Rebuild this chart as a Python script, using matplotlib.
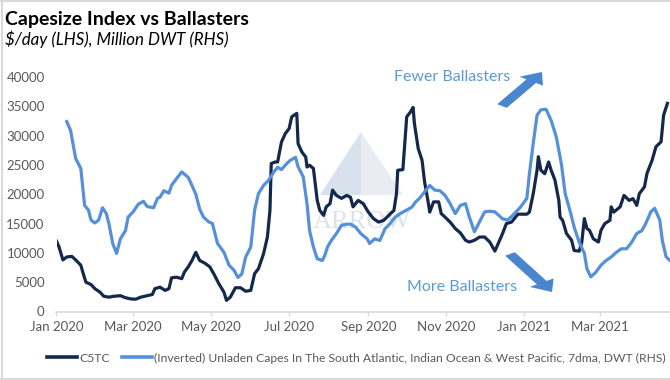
import numpy as np
import matplotlib
matplotlib.use("Agg")
import matplotlib.pyplot as plt
import matplotlib.dates as mdates
from matplotlib.patches import Polygon, FancyArrow
from matplotlib.lines import Line2D

plt.rcParams['font.family'] = ['Lato', 'DejaVu Sans']

start = np.datetime64('2020-01-01')

# C5TC, $/day (LHS) - days counted from 1 Jan 2020
c5tc_day = [0, 2, 5, 8, 12, 15, 19, 21, 23, 27,
            30, 34, 37, 41, 45, 50, 54, 58, 62, 66,
            71, 75, 77, 81, 85, 88, 90, 94, 98, 100,
            103, 106, 109, 112, 116, 120, 123, 127, 131, 133,
            136, 140, 144, 148, 152, 155, 158, 162, 165, 167,
            168, 171, 173, 176, 179, 182, 184, 188, 189, 192,
            195, 196, 198, 201, 204, 206, 209, 211, 214, 216,
            219, 223, 227, 230, 232, 236, 240, 244, 248, 252,
            256, 260, 264, 266, 267, 271, 274, 277, 279, 280,
            283, 286, 288, 291, 292, 295, 299, 301, 304, 308,
            312, 316, 320, 323, 327, 331, 335, 339, 343, 346,
            349, 352, 356, 361, 368, 370, 373, 376, 377, 379,
            382, 385, 387, 390, 393, 394, 396, 399, 403, 405,
            409, 411, 413, 415, 417, 420, 424, 426, 429, 433,
            434, 436, 441, 444, 448, 451, 454, 456, 460, 462,
            466, 469, 473, 475, 478]
c5tc = [12000, 11000, 8800, 9300, 9400, 8800, 7900, 6400, 5000, 4600,
        3900, 3300, 2600, 2450, 2600, 2700, 2350, 2150, 2100, 2450,
        2700, 2900, 3900, 4150, 3600, 3900, 5750, 5850, 5600, 6700,
        7600, 8700, 10100, 8700, 8250, 7600, 6450, 4750, 3300, 1900,
        2450, 4050, 4050, 3450, 3600, 6450, 7300, 9850, 12700, 17250,
        25250, 25500, 25500, 28900, 30350, 31200, 33200, 33800, 28650, 27200,
        26350, 24650, 24950, 24400, 18950, 17250, 16400, 17850, 18400, 20700,
        19800, 19300, 19800, 19500, 17850, 18950, 18400, 16950, 15850, 15250,
        15550, 16400, 17250, 20100, 24100, 24200, 33200, 34050, 34800, 32100,
        27800, 25800, 22100, 18400, 16950, 18700, 18700, 16700, 16100, 15250,
        14150, 13400, 12150, 11850, 12150, 12700, 12700, 11850, 10300, 11800,
        13300, 15000, 15250, 16600, 16600, 16950, 20100, 24100, 26400, 24100,
        23500, 25500, 24100, 22400, 18950, 16100, 15550, 13300, 12150, 10400,
        10300, 11850, 15850, 14150, 13850, 12400, 11850, 13850, 15000, 15550,
        17850, 16950, 17850, 19800, 18950, 19250, 18100, 20100, 21250, 23550,
        25800, 28100, 28950, 33500, 35500]

# unladen capes, million DWT (RHS, inverted)
capes_day = [8, 11, 15, 19, 22, 25, 27, 30, 33, 36,
             39, 41, 44, 47, 50, 54, 56, 60, 64, 68,
             71, 76, 79, 81, 84, 88, 90, 94, 98, 103,
             106, 109, 112, 115, 119, 122, 126, 131, 135, 139,
             142, 145, 148, 152, 155, 158, 162, 166, 170, 173,
             176, 180, 183, 187, 189, 193, 196, 198, 201, 204,
             208, 210, 212, 215, 219, 223, 227, 230, 234, 238,
             243, 245, 249, 253, 257, 261, 265, 269, 274, 278,
             281, 284, 288, 292, 296, 300, 304, 308, 312, 316,
             320, 323, 327, 331, 335, 339, 343, 349, 353, 357,
             363, 368, 370, 373, 376, 379, 383, 387, 391, 395,
             398, 402, 405, 409, 413, 415, 418, 422, 426, 430,
             434, 438, 442, 446, 450, 454, 458, 461, 465, 468,
             472, 474, 477, 480]
capes = [42.6, 44.1, 48.9, 50.6, 56.9, 57.7, 59.4, 59.9, 59.4, 57.3,
         58.3, 60.0, 63.4, 65.1, 62.6, 61.2, 58.9, 58.0, 56.7, 56.2,
         57.1, 57.3, 55.7, 55.5, 54.4, 54.8, 53.5, 52.3, 51.2, 52.1,
         53.5, 55.0, 57.5, 58.9, 59.7, 60.0, 63.4, 64.9, 67.1, 68.0,
         69.2, 68.6, 65.7, 64.0, 57.7, 54.9, 53.5, 52.6, 51.2, 50.4,
         50.8, 49.8, 49.2, 48.7, 50.3, 52.0, 56.6, 61.2, 64.0, 66.0,
         66.3, 65.4, 64.0, 62.9, 61.7, 60.3, 60.1, 60.1, 60.6, 61.7,
         62.6, 63.4, 62.6, 62.9, 60.9, 60.0, 58.9, 58.3, 57.7, 57.2,
         56.3, 55.7, 54.6, 53.5, 54.3, 54.4, 55.2, 56.6, 58.3, 56.9,
         56.6, 58.9, 61.4, 59.7, 58.0, 57.9, 58.0, 59.2, 59.4, 58.6,
         57.2, 55.7, 51.5, 46.3, 41.5, 40.6, 40.5, 42.4, 45.2, 49.8,
         54.9, 58.0, 60.6, 63.2, 65.1, 67.7, 69.1, 68.3, 67.1, 66.3,
         65.7, 64.9, 64.3, 64.3, 63.2, 61.7, 61.2, 60.0, 58.0, 57.4,
         59.4, 62.9, 65.7, 66.3]

dark = "#14284b"
blue = "#5590d8"
grey = "#595959"

x1 = start + np.array(c5tc_day).astype('timedelta64[D]')
x2 = start + np.array(capes_day).astype('timedelta64[D]')

fig = plt.figure(figsize=(6.7, 3.8), dpi=100)
W, H = 670, 380
ax = fig.add_axes([56.5 / W, 1 - 311.5 / H, (W - 56.5) / W, 234.5 / H])
ax2 = ax.twinx()

# watermark
wm_kw = dict(transform=fig.transFigure, zorder=0)
fig.patches.append(Polygon([(361 / W, 1 - 132 / H), (320 / W, 1 - 195 / H), (361 / W, 1 - 195 / H)],
                           closed=True, fc="#d8e1ec", ec="none", **wm_kw))
fig.patches.append(Polygon([(361 / W, 1 - 132 / H), (403 / W, 1 - 195 / H), (361 / W, 1 - 195 / H)],
                           closed=True, fc="#e9edf3", ec="none", **wm_kw))
fig.lines.append(Line2D([322 / W, 361 / W, 400 / W], [1 - 192 / H, 1 - 148 / H, 1 - 192 / H],
                        color="white", lw=1.0, **wm_kw))
fig.text(362 / W, 1 - 222 / H, "ARROW", family="Liberation Serif", fontsize=19,
         color="#dde2ea", ha="center", va="center", zorder=0)

ax.set_zorder(2)
ax2.set_zorder(3)
ax.patch.set_visible(False)
ax2.patch.set_visible(False)

ax.plot(x1, c5tc, color=dark, lw=2.3, solid_joinstyle="round")
ax2.plot(x2, capes, color=blue, lw=2.3, solid_joinstyle="round")

ax.set_xlim(start, start + np.timedelta64(480, 'D'))
ax.set_ylim(0, 40000)
ax.set_yticks(range(0, 40001, 5000))
ax2.set_ylim(75, 35)

ax.xaxis.set_major_locator(mdates.MonthLocator(bymonth=[1, 3, 5, 7, 9, 11]))
ax.xaxis.set_major_formatter(mdates.DateFormatter('%b %Y'))

for s in ["top", "right", "left"]:
    ax.spines[s].set_visible(False)
    ax2.spines[s].set_visible(False)
ax2.spines["bottom"].set_visible(False)
ax.spines["bottom"].set_color("#d9d9d9")
ax.spines["bottom"].set_linewidth(1.2)
ax2.set_yticks([])
ax.tick_params(axis="y", length=0, pad=8.5, labelsize=9.5, labelcolor=grey)
ax.tick_params(axis="x", length=3, width=1, color="#d9d9d9", pad=4, labelsize=9.5, labelcolor=grey)

# titles
fig.text(5 / W, 1 - 25 / H, "Capesize Index vs Ballasters", fontsize=14, fontweight="bold",
         color="black", va="baseline", ha="left")
fig.text(5 / W, 1 - 45 / H, "$/day (LHS), Million DWT (RHS)", fontsize=12.2, style="italic",
         color="black", va="baseline", ha="left")

# annotations
fig.text(394 / W, 1 - 77 / H, "Fewer Ballasters", fontsize=11.5, color="#5b9bd5", va="center", ha="left")
fig.text(407 / W, 1 - 287 / H, "More Ballasters", fontsize=11.5, color="#5b9bd5", va="center", ha="left")
fig.patches.append(FancyArrow(502 / W, 1 - 106 / H, 40 / W, 34 / H, width=6.5 / H, head_width=16 / H,
                              head_length=11 / H, length_includes_head=True, fc="#4a86d0", ec="none",
                              transform=fig.transFigure, zorder=5))
fig.patches.append(FancyArrow(510 / W, 1 - 254 / H, 42 / W, -38 / H, width=6.5 / H, head_width=16 / H,
                              head_length=11 / H, length_includes_head=True, fc="#4a86d0", ec="none",
                              transform=fig.transFigure, zorder=5))

# legend
handles = [Line2D([], [], color=dark, lw=2.6), Line2D([], [], color=blue, lw=2.6)]
labels = ["C5TC",
          "(Inverted) Unladen Capes In The South Atlantic, Indian Ocean & West Pacific, 7dma, DWT (RHS)"]
fig.legend(handles, labels, loc="center left", bbox_to_anchor=(47 / W, 1 - 358 / H), ncol=2,
           frameon=False, fontsize=8.7, handlelength=2.5, handletextpad=0.15, columnspacing=1.0,
           borderpad=0, borderaxespad=0, labelcolor=grey)

# outer frame (right side cropped)
for xs, ys in [([1.5 / W, 1.5 / W], [0, 1]), ([0, 1], [1 - 0.5 / H, 1 - 0.5 / H]), ([0, 1], [1.5 / H, 1.5 / H])]:
    fig.lines.append(Line2D(xs, ys, color="#d9d9d9", lw=1.5, transform=fig.transFigure))

fig.savefig("out.png", dpi=100)
